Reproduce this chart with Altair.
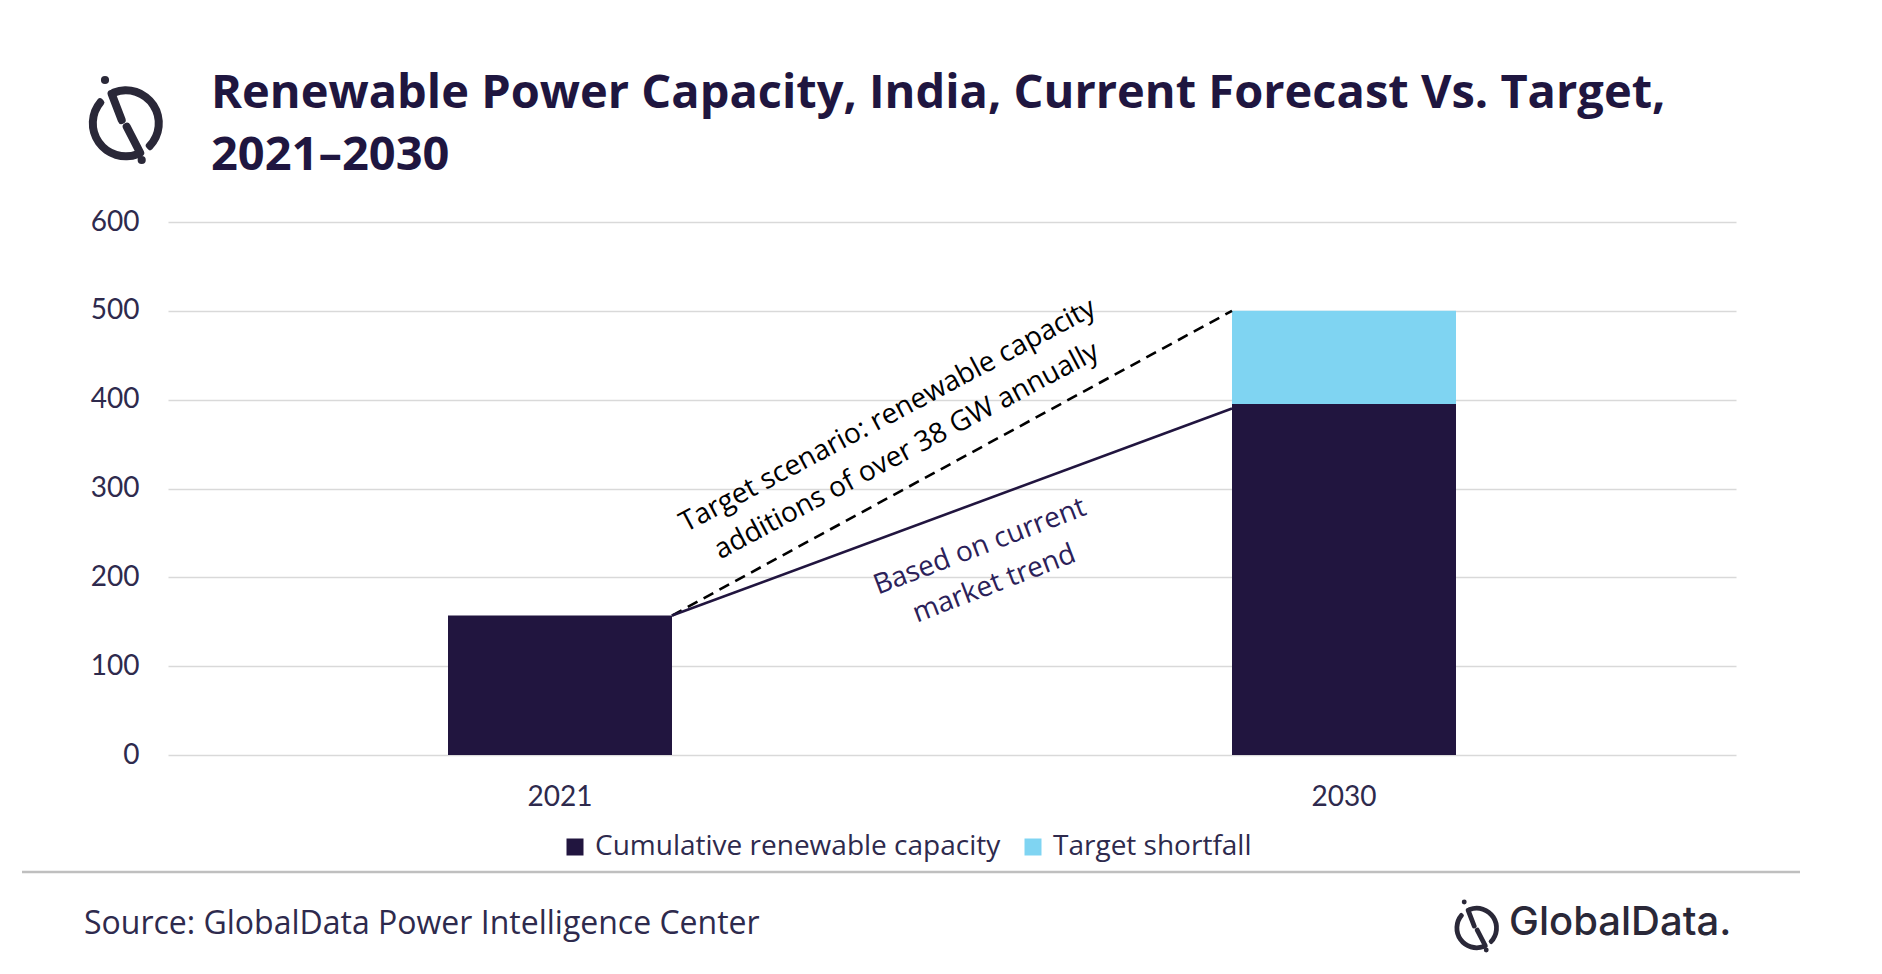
import math
import altair as alt
import pandas as pd

# ---------------- data ----------------
years = ["2021", "2030"]
series_names = ["Cumulative renewable capacity", "Target shortfall"]
cumulative_gw = [157, 395]
shortfall_gw = [0, 105]
trend_start_gw = 157
current_trend_end_gw = 390
target_end_gw = 500
y_ticks = [0, 100, 200, 300, 400, 500, 600]

title_lines = ["Renewable Power Capacity, India, Current Forecast Vs. Target,", "2021\u20132030"]
target_note = ["Target scenario: renewable capacity", "additions of over 38 GW annually"]
trend_note = ["Based  on current", "market trend"]
source_text = "Source: GlobalData Power Intelligence Center"
brand_text = "GlobalData."

# ---------------- style ----------------
FONT = "Lato"
FONT2 = "Open Sans"
DARK = "#21153F"
LIGHT = "#7FD4F2"
TEXT = "#2E2A4D"
TITLE = "#1F1640"
GRID = "#D9D9D9"
W, H = 1568, 533          # plot area
LEFT, TOP = 168, 222      # plot origin inside the 1882x974 canvas
BAR_W = 224

rows = []
for i, y in enumerate(years):
    rows.append({"year": y, "series": series_names[0], "value": cumulative_gw[i], "ord": 0})
    if shortfall_gw[i] > 0:
        rows.append({"year": y, "series": series_names[1], "value": shortfall_gw[i], "ord": 1})
bars_df = pd.DataFrame(rows)

trend_df = pd.DataFrame({
    "from_year": [years[0], years[0]],
    "to_year": [years[1], years[1]],
    "from_val": [trend_start_gw, trend_start_gw],
    "to_val": [current_trend_end_gw, target_end_gw],
    "kind": ["current", "target"],
})

one = pd.DataFrame({"k": [0]})

x_scale = alt.Scale(domain=years, paddingInner=0.714, paddingOuter=0.357)
y_scale = alt.Scale(domain=[0, 600], nice=False)

bars = alt.Chart(bars_df).mark_bar(width=BAR_W).encode(
    x=alt.X("year:N", scale=x_scale, title=None,
            axis=alt.Axis(labelAngle=0, domain=False, ticks=False, tickSize=0,
                          labelPadding=28, labelFont=FONT, labelFontSize=28,
                          labelColor=TEXT, grid=False)),
    y=alt.Y("value:Q", stack="zero", scale=y_scale, title=None,
            axis=alt.Axis(values=y_ticks, domain=False, ticks=False, tickSize=0,
                          labelPadding=29, labelFont=FONT, labelFontSize=28,
                          labelColor=TEXT, grid=True, gridColor=GRID, gridWidth=1.5)),
    color=alt.Color("series:N",
                    scale=alt.Scale(domain=series_names, range=[DARK, LIGHT]),
                    legend=alt.Legend(title=None, orient="none", direction="horizontal",
                                      legendX=393, legendY=611, symbolType="square",
                                      symbolSize=289, symbolStrokeWidth=0,
                                      labelFont=FONT2, labelFontSize=28, labelColor=TEXT,
                                      labelLimit=0, labelOffset=6, columnPadding=18,
                                      padding=0)),
    order=alt.Order("ord:Q"),
)

def trend_rule(kind, color, dash=None):
    kw = dict(color=color, strokeWidth=2.6, xOffset=BAR_W / 2, x2Offset=-BAR_W / 2)
    if dash:
        kw["strokeDash"] = dash
    return alt.Chart(trend_df).transform_filter(alt.datum.kind == kind).mark_rule(**kw).encode(
        x=alt.X("from_year:N", scale=x_scale),
        x2="to_year:N",
        y=alt.Y("from_val:Q", scale=y_scale),
        y2="to_val:Q",
    )

current_line = trend_rule("current", DARK)
target_line = trend_rule("target", "#000000", [11, 7])

def text_at(txt, x, y, size, color=TEXT, weight="normal", align="left",
            baseline="alphabetic", angle=0, line_height=None, font=FONT):
    kw = dict(text=txt, font=font, fontSize=size, color=color, fontWeight=weight,
              align=align, baseline=baseline)
    if angle:
        kw["angle"] = angle
    if line_height:
        kw["lineHeight"] = line_height
    return alt.Chart(one).mark_text(**kw).encode(x=alt.value(x), y=alt.value(y))

title1 = text_at(title_lines[0], 43, -114, 47, color=TITLE, weight="bold", font=FONT2)
title2 = text_at(title_lines[1], 43, -52, 47, color=TITLE, weight="bold", font=FONT2)
note1 = text_at(target_note, 720, 194, 28, color="#000000", align="center",
                baseline="middle", angle=332, line_height=40, font=FONT2)
note2 = text_at(trend_note, 812, 325, 28, color="#2B2159", align="center",
                baseline="middle", angle=339, line_height=40, font=FONT2)
source = text_at(source_text, -84, 712, 32, font=FONT2)
brand = text_at(brand_text, 1341, 713, 40, color="#2A2838", weight=500, font="Inter")

footer_rule = alt.Chart(one).mark_rule(color="#BFBFBF", strokeWidth=2.5).encode(
    x=alt.value(-146), x2=alt.value(1632), y=alt.value(650))


def logo(cx, cy, s, color):
    layers = []
    for t1, t2 in [(2.69, 5.51), (5.83, 8.72)]:
        layers.append(alt.Chart(one).mark_arc(
            theta=t1, theta2=t2, innerRadius=29 * s, outerRadius=37 * s,
            color=color, cornerRadius=3 * s).encode(x=alt.value(cx), y=alt.value(cy)))
    for (ax, ay), (bx, by) in [((-14.2, -29.5), (-4.1, -3.3)), ((0.9, 3.4), (14.4, 29.6))]:
        layers.append(alt.Chart(one).mark_rule(
            color=color, strokeWidth=8 * s, strokeCap="round").encode(
            x=alt.value(cx + ax * s), y=alt.value(cy + ay * s),
            x2=alt.value(cx + bx * s), y2=alt.value(cy + by * s)))
    for dx, dy in [(-20.8, -43.3), (15.9, 36.7)]:
        layers.append(alt.Chart(one).mark_circle(
            color=color, opacity=1, size=math.pi * (4.6 * s) ** 2).encode(
            x=alt.value(cx + dx * s), y=alt.value(cy + dy * s)))
    return layers

logo_big = logo(125.8 - LEFT, 123.3 - TOP, 1.0, "#2A2838")
logo_small = logo(1476.7 - LEFT, 928 - TOP, 0.6, "#2A2838")

chart = alt.layer(
    bars, target_line, current_line, note1, note2,
    title1, title2, source, brand, footer_rule, *logo_big, *logo_small,
).properties(
    width=W, height=H,
    padding={"left": LEFT, "top": TOP, "right": 1882 - LEFT - W, "bottom": 974 - TOP - H},
    autosize=alt.AutoSizeParams(type="none"),
    background="white",
).configure_view(stroke=None)

chart.save("out.html", embed_options={"renderer": "svg", "actions": False})
